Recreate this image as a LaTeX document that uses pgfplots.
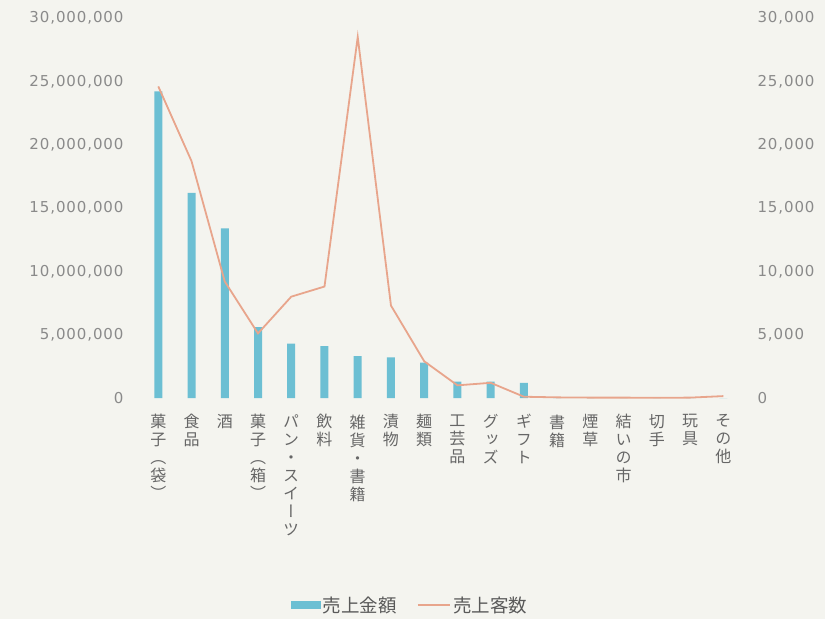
\documentclass[border=0pt]{standalone}
\usepackage{pgfplots}
\pgfplotsset{compat=1.18}
\usepackage{fontspec}
\setmainfont{DejaVu Sans}
\newfontfamily\tickfont[LetterSpace=6]{DejaVu Sans}
\newfontfamily\cjk{Noto Sans CJK JP}
\newfontfamily\cjkv[RawFeature=+vert]{Noto Sans CJK JP}
\usetikzlibrary{backgrounds}
\definecolor{barblue}{HTML}{6CBFD3}
\definecolor{linesalmon}{HTML}{E8A58C}
\definecolor{ticktext}{HTML}{8A8A8A}
\definecolor{papercol}{HTML}{F4F4EF}

\begin{document}
\begin{tikzpicture}
% 売上金額 (bars, left axis)
\begin{axis}[
    scale only axis,
    width=600pt, height=380pt,
    xmin=-0.55, xmax=17.5,
    ymin=0, ymax=30000000,
    ytick={0,5000000,10000000,15000000,20000000,25000000,30000000},
    scaled y ticks=false,
    yticklabel style={/pgf/number format/fixed, /pgf/number format/1000 sep={,},
      /pgf/number format/assume math mode=true,
      font=\fontsize{15}{17}\selectfont\tickfont, text=ticktext, xshift=-13pt},
    xtick={0,...,17},
    xticklabels={
      {菓\\子\\（\\袋\\）}, {食\\品}, {酒}, {菓\\子\\（\\箱\\）}, {パ\\ン\\・\\ス\\イ\\ー\\ツ},
      {飲\\料}, {雑\\貨\\・\\書\\籍}, {漬\\物}, {麺\\類}, {工\\芸\\品}, {グ\\ッ\\ズ},
      {ギ\\フ\\ト}, {書\\籍}, {煙\\草}, {結\\い\\の\\市}, {切\\手}, {玩\\具}, {そ\\の\\他}},
    xticklabel style={font=\fontsize{16}{18}\selectfont\cjkv, text=black!60, align=center, anchor=north, yshift=-13pt},
    axis line style={draw=none},
    major tick length=0pt,
    axis y line*=left,
    axis x line*=bottom,
]
\addplot[ybar, bar width=8pt, fill=barblue, draw=none] coordinates {
    (0,24200000) (1,16200000) (2,13400000) (3,5600000) (4,4300000) (5,4100000)
    (6,3300000) (7,3200000) (8,2800000) (9,1300000) (10,1300000) (11,1200000)
    (12,0) (13,0) (14,0) (15,0) (16,0) (17,0)
};
\end{axis}
% 売上客数 (line, right axis)
\begin{axis}[
    scale only axis,
    width=600pt, height=380pt,
    xmin=-0.55, xmax=17.5,
    ymin=0, ymax=30000,
    ytick={0,5000,10000,15000,20000,25000,30000},
    scaled y ticks=false,
    yticklabel style={/pgf/number format/fixed, /pgf/number format/1000 sep={,},
      /pgf/number format/assume math mode=true,
      font=\fontsize{15}{17}\selectfont\tickfont, text=ticktext, anchor=west, xshift=14pt},
    axis y line*=right,
    axis x line=none,
    axis line style={draw=none},
    major tick length=0pt,
    legend style={at={(0.45,-0.545)}, anchor=center, legend columns=2, draw=none, fill=none,
      font=\fontsize{18.5}{20}\selectfont\cjk, text=black!65,
      /tikz/every even column/.append style={column sep=18pt}},
]
\addlegendimage{area legend, legend image code/.code={\fill[barblue] (-0.2cm,-0.12cm) rectangle (0.85cm,0.12cm);}}
\addlegendentry{売上金額}
\addlegendimage{legend image code/.code={\draw[linesalmon, line width=1.8pt] (-0.2cm,0cm) -- (0.95cm,0cm);}}
\addlegendentry{売上客数}
\addplot[linesalmon, line width=1.8pt, forget plot] coordinates {
    (0,24600) (1,18700) (2,9200) (3,5100) (4,8000) (5,8800)
    (6,28500) (7,7300) (8,2900) (9,1000) (10,1200) (11,100)
    (12,50) (13,30) (14,30) (15,20) (16,30) (17,150)
};
\end{axis}
\path (current axis.south west) ++(-140pt,-221pt) coordinate (bbsw) rectangle ++(825pt,619pt) coordinate (bbne);
\begin{pgfonlayer}{background}
\fill[papercol] (bbsw) rectangle (bbne);
\end{pgfonlayer}
\end{tikzpicture}
\end{document}
